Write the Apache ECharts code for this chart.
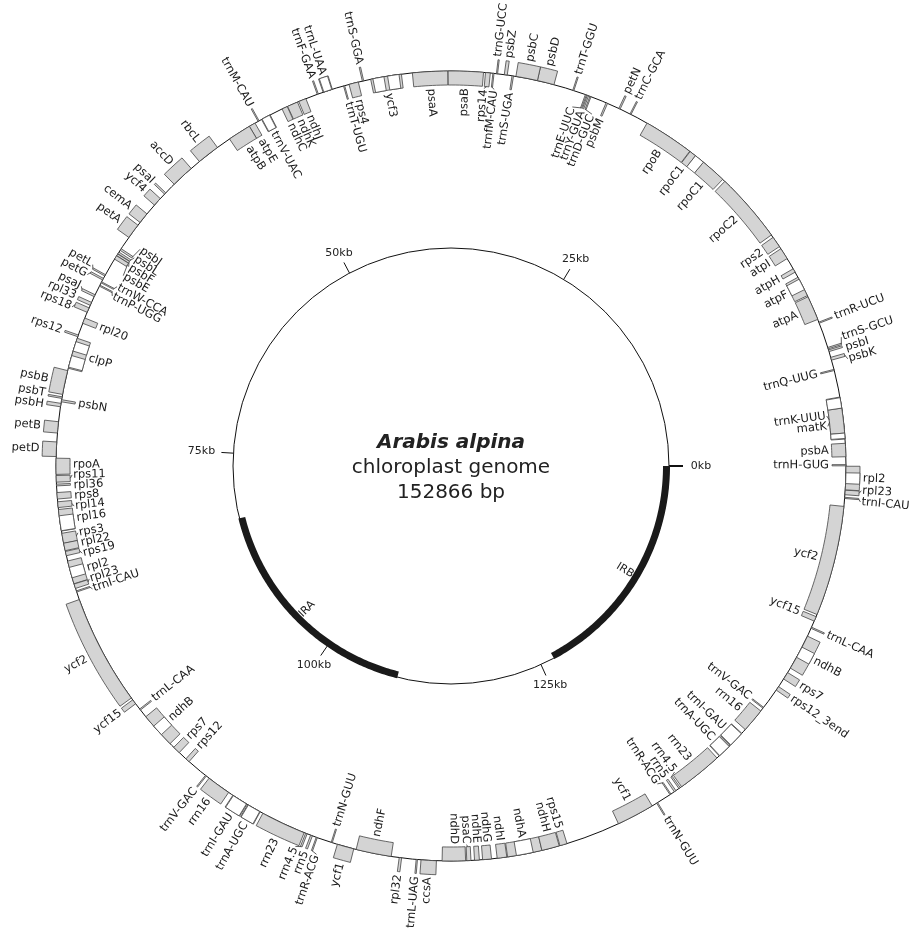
<!DOCTYPE html>
<html>
<head>
<meta charset="utf-8">
<title>Arabis alpina chloroplast genome</title>
<script src="https://cdn.jsdelivr.net/npm/echarts@6/dist/echarts.min.js"></script>
<style>
  html, body { margin: 0; padding: 0; background: #fff; }
  #map { width: 911px; height: 931px; }
</style>
</head>
<body>
<div id="map"></div>
<script>
var genomeLength = 152866;

// [name, start, end, strand]   strand 1 = box outside the circle, -1 = inside
var lscGenes = [
  ['trnH-GUG', 10, 85, -1], ['psbA', 570, 1400, -1], ['trnK-UUU', 1660, 4270, -1],
  ['matK', 2030, 3580, -1], ['trnQ-UUG', 5940, 6012, -1], ['psbK', 6600, 6780, 1],
  ['psbI', 7150, 7260, 1], ['trnS-GCU', 7330, 7418, 1], ['trnR-UCU', 9000, 9072, 1],
  ['atpA', 9250, 10770, -1], ['atpF', 10850, 12120, -1], ['atpH', 12480, 12720, -1],
  ['atpI', 13450, 14170, -1], ['rps2', 14330, 15020, -1], ['rpoC2', 15200, 19580, -1],
  ['rpoC1', 19760, 21350, -1], ['rpoC1', 21980, 22400, -1], ['rpoB', 22430, 25580, -1],
  ['trnC-GCA', 26700, 26772, 1], ['petN', 27450, 27540, 1], ['psbM', 28300, 28400, -1],
  ['trnD-GUC', 29400, 29473, -1], ['trnY-GUA', 29560, 29643, -1], ['trnE-UUC', 29700, 29772, -1],
  ['trnT-GGU', 30520, 30591, 1], ['psbD', 31800, 32850, 1], ['psbC', 32850, 34200, 1],
  ['trnS-UGA', 34350, 34442, -1], ['psbZ', 34740, 34925, 1], ['trnG-UCC', 35340, 35411, 1],
  ['trnfM-CAU', 35560, 35633, -1], ['rps14', 35790, 36090, -1], ['psaB', 36210, 38400, -1],
  ['psaA', 38420, 40600, -1], ['ycf3', 41280, 43200, -1], ['trnS-GGA', 43640, 43726, 1],
  ['rps4', 43980, 44570, -1], ['trnT-UGU', 44850, 44922, -1], ['trnL-UAA', 45640, 46240, 1],
  ['trnF-GAA', 46550, 46622, 1], ['ndhJ', 47370, 47840, -1], ['ndhK', 47930, 48590, -1],
  ['ndhC', 48620, 48970, -1], ['trnV-UAC', 49790, 50390, -1], ['trnM-CAU', 50560, 50632, 1],
  ['atpE', 50850, 51250, -1], ['atpB', 51250, 52700, -1], ['rbcL', 53610, 55020, 1],
  ['accD', 55680, 57110, 1], ['psaI', 57850, 57960, 1], ['ycf4', 58340, 58880, 1],
  ['cemA', 59590, 60270, 1], ['petA', 60480, 61420, 1], ['psbJ', 62260, 62380, -1],
  ['psbL', 62510, 62630, -1], ['psbF', 62650, 62770, -1], ['psbE', 62780, 63020, -1],
  ['petL', 64130, 64220, 1], ['petG', 64390, 64500, 1], ['trnW-CCA', 64630, 64702, -1],
  ['trnP-UGG', 64860, 64932, -1], ['psaJ', 65520, 65650, 1], ['rpl33', 66040, 66240, 1],
  ['rps18', 66410, 66710, 1], ['rpl20', 67090, 67440, -1], ['rps12', 68210, 68320, 1],
  ['clpP', 68420, 70350, -1], ['psbB', 70500, 72000, 1], ['psbT', 72150, 72250, 1],
  ['psbN', 72330, 72460, -1], ['psbH', 72560, 72770, 1], ['petB', 73700, 74400, 1],
  ['petD', 74950, 75850, 1], ['rpoA', 75950, 76950, -1], ['rps11', 77020, 77430, -1],
  ['rpl36', 77550, 77660, -1], ['rps8', 78070, 78470, -1], ['rpl14', 78640, 79000, -1],
  ['rpl16', 79120, 80460, -1], ['rps3', 80600, 81230, -1], ['rpl22', 81220, 81690, -1],
  ['rps19', 81740, 82010, -1]
];

var iraGenes = [
  ['rpl2', 82345, 83799, -1], ['rpl23', 83818, 84102, -1], ['trnI-CAU', 84260, 84333, -1],
  ['ycf2', 84824, 91708, 1], ['ycf15', 91850, 92150, 1], ['trnL-CAA', 92557, 92637, -1],
  ['ndhB', 93165, 95399, -1], ['rps7', 95721, 96188, -1], ['rps12', 96750, 97010, -1],
  ['trnV-GAC', 98324, 98395, 1], ['rrn16', 98610, 100100, 1], ['trnI-GAU', 100414, 101437, 1],
  ['trnA-UGC', 101502, 102384, 1], ['rrn23', 102572, 105381, 1], ['rrn4.5', 105479, 105581, 1],
  ['rrn5', 105806, 105926, 1], ['trnR-ACG', 106176, 106249, 1], ['trnN-GUU', 107150, 107222, -1],
  ['ycf1', 107550, 108600, 1]
];

var sscGenes = [
  ['ndhF', 108750, 110950, -1], ['rpl32', 111450, 111600, 1], ['trnL-UAG', 112500, 112580, 1],
  ['ccsA', 112800, 113750, 1], ['ndhD', 114100, 115550, -1], ['psaC', 115620, 115880, -1],
  ['ndhE', 116100, 116400, -1], ['ndhG', 116600, 117150, -1], ['ndhI', 117500, 118100, -1],
  ['ndhA', 118150, 120300, -1], ['ndhH', 120300, 121400, -1], ['rps15', 121450, 121900, -1],
  ['ycf1', 125300, 127650, -1]
];

var irbGenes = [
  ['trnN-GUU', 127974, 128046, 1], ['trnR-ACG', 128947, 129020, -1], ['rrn5', 129270, 129390, -1],
  ['rrn4.5', 129615, 129717, -1], ['rrn23', 129815, 132624, -1], ['trnA-UGC', 132812, 133694, -1],
  ['trnI-GAU', 133759, 134782, -1], ['rrn16', 135096, 136586, -1], ['trnV-GAC', 136801, 136872, -1],
  ['rps12_3end', 138186, 138446, 1], ['rps7', 139008, 139475, 1], ['ndhB', 139797, 142031, 1],
  ['trnL-CAA', 142559, 142639, 1], ['ycf15', 143046, 143346, -1], ['ycf2', 143488, 150372, -1],
  ['trnI-CAU', 150863, 150936, 1], ['rpl23', 151094, 151378, 1], ['rpl2', 151397, 152851, 1]
];

// intron stretches, drawn white: [start, end, strand]
var introns = [
  [1700, 2030, -1], [3580, 4230, -1], [11260, 11980, -1], [21350, 21980, -1],
  [41430, 42140, -1], [42370, 43060, -1], [45680, 46190, 1], [49830, 50350, -1],
  [68640, 69250, -1], [69540, 70280, -1], [79510, 80440, -1],
  [82750, 83415, -1], [93921, 94629, -1], [100452, 101402, 1], [101540, 102349, 1],
  [118700, 119750, -1],
  [132847, 133656, -1], [133794, 134744, -1], [140567, 141275, 1], [151781, 152446, 1]
];

var irNames = ['IRA', 'IRB'];
var irStarts = [82330, 126596];
var irEnds = [108600, 152866];

var tickPositions = [0, 25000, 50000, 75000, 100000, 125000];
var tickLabels = ['0kb', '25kb', '50kb', '75kb', '100kb', '125kb'];

var titleLines = ['Arabis alpina', 'chloroplast genome', '152866 bp'];

var chart = echarts.init(document.getElementById('map'));

var R_OUT = 395, R_IN = 218, BOX = 14;
var FONT = '"DejaVu Sans", sans-serif';
var LABEL_STEP = 670;

var genes = lscGenes.concat(iraGenes, sscGenes, irbGenes);

// spread the labels of one side so neighbours stay LABEL_STEP apart
function layoutLabels(strand) {
  var list = [];
  genes.forEach(function (g, i) {
    if (g[3] === strand) {
      var mid = (g[1] + g[2]) / 2;
      list.push({ idx: i, pos: mid, lab: mid });
    }
  });
  list.sort(function (a, b) { return a.pos - b.pos; });
  for (var it = 0; it < 3000; it++) {
    var moved = false;
    for (var i = 1; i < list.length; i++) {
      var d = list[i].lab - list[i - 1].lab;
      if (d < LABEL_STEP - 0.5) {
        var sh = (LABEL_STEP - d) / 2;
        list[i].lab += sh;
        list[i - 1].lab -= sh;
        moved = true;
      }
    }
    if (!moved) break;
  }
  return list;
}

var labelData = layoutLabels(1).concat(layoutLabels(-1)).map(function (l) {
  return [l.lab, l.pos, genes[l.idx][3], l.idx];
});

function arcPoints(api, r, a, b) {
  var n = Math.max(2, Math.ceil(Math.abs(b - a) / 250));
  var pts = [];
  for (var i = 0; i <= n; i++) pts.push(api.coord([r, a + (b - a) * i / n]));
  return pts;
}

function boxItem(fill) {
  return function (params, api) {
    var s = api.value(0), e = api.value(1), strand = api.value(2);
    var r0 = strand > 0 ? R_OUT : R_OUT - BOX;
    var r1 = strand > 0 ? R_OUT + BOX : R_OUT;
    var pts = arcPoints(api, r1, s, e).concat(arcPoints(api, r0, s, e).reverse());
    return {
      type: 'polygon',
      shape: { points: pts },
      style: { fill: fill, stroke: '#444', lineWidth: 0.8 }
    };
  };
}

function renderLabel(params, api) {
  var lab = api.value(0), pos = api.value(1), strand = api.value(2);
  var name = genes[api.value(3)][0];
  var c = api.coord([0, 0]);
  var rText = strand > 0 ? R_OUT + BOX + 3 : R_OUT - BOX - 3;
  var p = api.coord([rText, lab]);
  var ang = Math.atan2(c[1] - p[1], p[0] - c[0]);
  var right = Math.cos(ang) >= 0;
  var children = [{
    type: 'text',
    x: p[0], y: p[1],
    rotation: right ? ang : ang + Math.PI,
    style: {
      text: name, fontSize: 11.5, fontFamily: FONT, fill: '#1a1a1a',
      align: (strand > 0) === right ? 'left' : 'right',
      verticalAlign: 'middle'
    }
  }];
  if (Math.abs(lab - pos) > 120) {
    var q = api.coord([strand > 0 ? R_OUT + BOX : R_OUT - BOX, pos]);
    var q2 = api.coord([strand > 0 ? rText - 1 : rText + 1, lab]);
    children.push({
      type: 'line',
      shape: { x1: q[0], y1: q[1], x2: q2[0], y2: q2[1] },
      style: { stroke: '#333', lineWidth: 0.8 }
    });
  }
  return { type: 'group', children: children };
}

function renderCircle(params, api) {
  var c = api.coord([0, 0]);
  return {
    type: 'circle',
    shape: { cx: c[0], cy: c[1], r: api.value(0) },
    style: { fill: 'none', stroke: '#111', lineWidth: 1 }
  };
}

function renderTick(params, api) {
  var pos = api.value(0), i = api.value(1);
  var c = api.coord([0, 0]);
  var a = api.coord([R_IN, pos]);
  var b = api.coord([R_IN + (i === 0 ? 14 : 12), pos]);
  var cosA = (a[0] - c[0]) / R_IN;
  var t = api.coord([238 + 12 * cosA * cosA, pos]);
  return {
    type: 'group',
    children: [
      { type: 'line', shape: { x1: a[0], y1: a[1], x2: b[0], y2: b[1] },
        style: { stroke: '#111', lineWidth: i === 0 ? 2 : 1 } },
      { type: 'text', x: t[0], y: t[1],
        style: { text: tickLabels[i], fontSize: 11, fontFamily: FONT, fill: '#222',
          align: 'center', verticalAlign: 'middle' } }
    ]
  };
}

function renderIR(params, api) {
  var s = api.value(0), e = api.value(1), i = api.value(2);
  var pts = arcPoints(api, R_IN + 1, s, e).concat(arcPoints(api, R_IN - 6, s, e).reverse());
  var c = api.coord([0, 0]);
  var mid = (s + e) / 2;
  var p = api.coord([203, mid]);
  var ang = Math.atan2(c[1] - p[1], p[0] - c[0]);
  var right = Math.cos(ang) >= 0;
  return {
    type: 'group',
    children: [
      { type: 'polygon', shape: { points: pts }, style: { fill: '#1a1a1a' } },
      { type: 'text', x: p[0], y: p[1], rotation: right ? ang : ang + Math.PI,
        style: { text: irNames[i], fontSize: 11, fontFamily: FONT, fill: '#222',
          align: 'center', verticalAlign: 'middle' } }
    ]
  };
}

chart.setOption({
  backgroundColor: '#fff',
  animation: false,
  polar: { center: [451, 466], radius: 460 },
  radiusAxis: { type: 'value', min: 0, max: 460, show: false },
  angleAxis: {
    type: 'value', min: 0, max: genomeLength, startAngle: 0, clockwise: false, show: false
  },
  graphic: titleLines.map(function (t, i) {
    return {
      type: 'text', x: 451, y: 443 + i * 25, silent: true,
      style: {
        text: t, fontSize: 20, fontFamily: FONT, fill: '#222',
        fontWeight: i === 0 ? 'bold' : 'normal',
        fontStyle: i === 0 ? 'italic' : 'normal',
        align: 'center', verticalAlign: 'middle'
      }
    };
  }),
  series: [
    { type: 'custom', coordinateSystem: 'polar', silent: true,
      data: [[R_IN, 0], [R_OUT, 0]], renderItem: renderCircle },
    { type: 'custom', coordinateSystem: 'polar', silent: true,
      data: tickPositions.map(function (p, i) { return [p, i]; }), renderItem: renderTick },
    { type: 'custom', coordinateSystem: 'polar', silent: true,
      data: irStarts.map(function (s, i) { return [s, irEnds[i], i]; }), renderItem: renderIR },
    { type: 'custom', coordinateSystem: 'polar', silent: true,
      data: genes.map(function (g) { return [g[1], g[2], g[3]]; }), renderItem: boxItem('#d4d4d4') },
    { type: 'custom', coordinateSystem: 'polar', silent: true,
      data: introns, renderItem: boxItem('#ffffff') },
    { type: 'custom', coordinateSystem: 'polar', silent: true,
      data: labelData, renderItem: renderLabel }
  ]
});
</script>
</body>
</html>
